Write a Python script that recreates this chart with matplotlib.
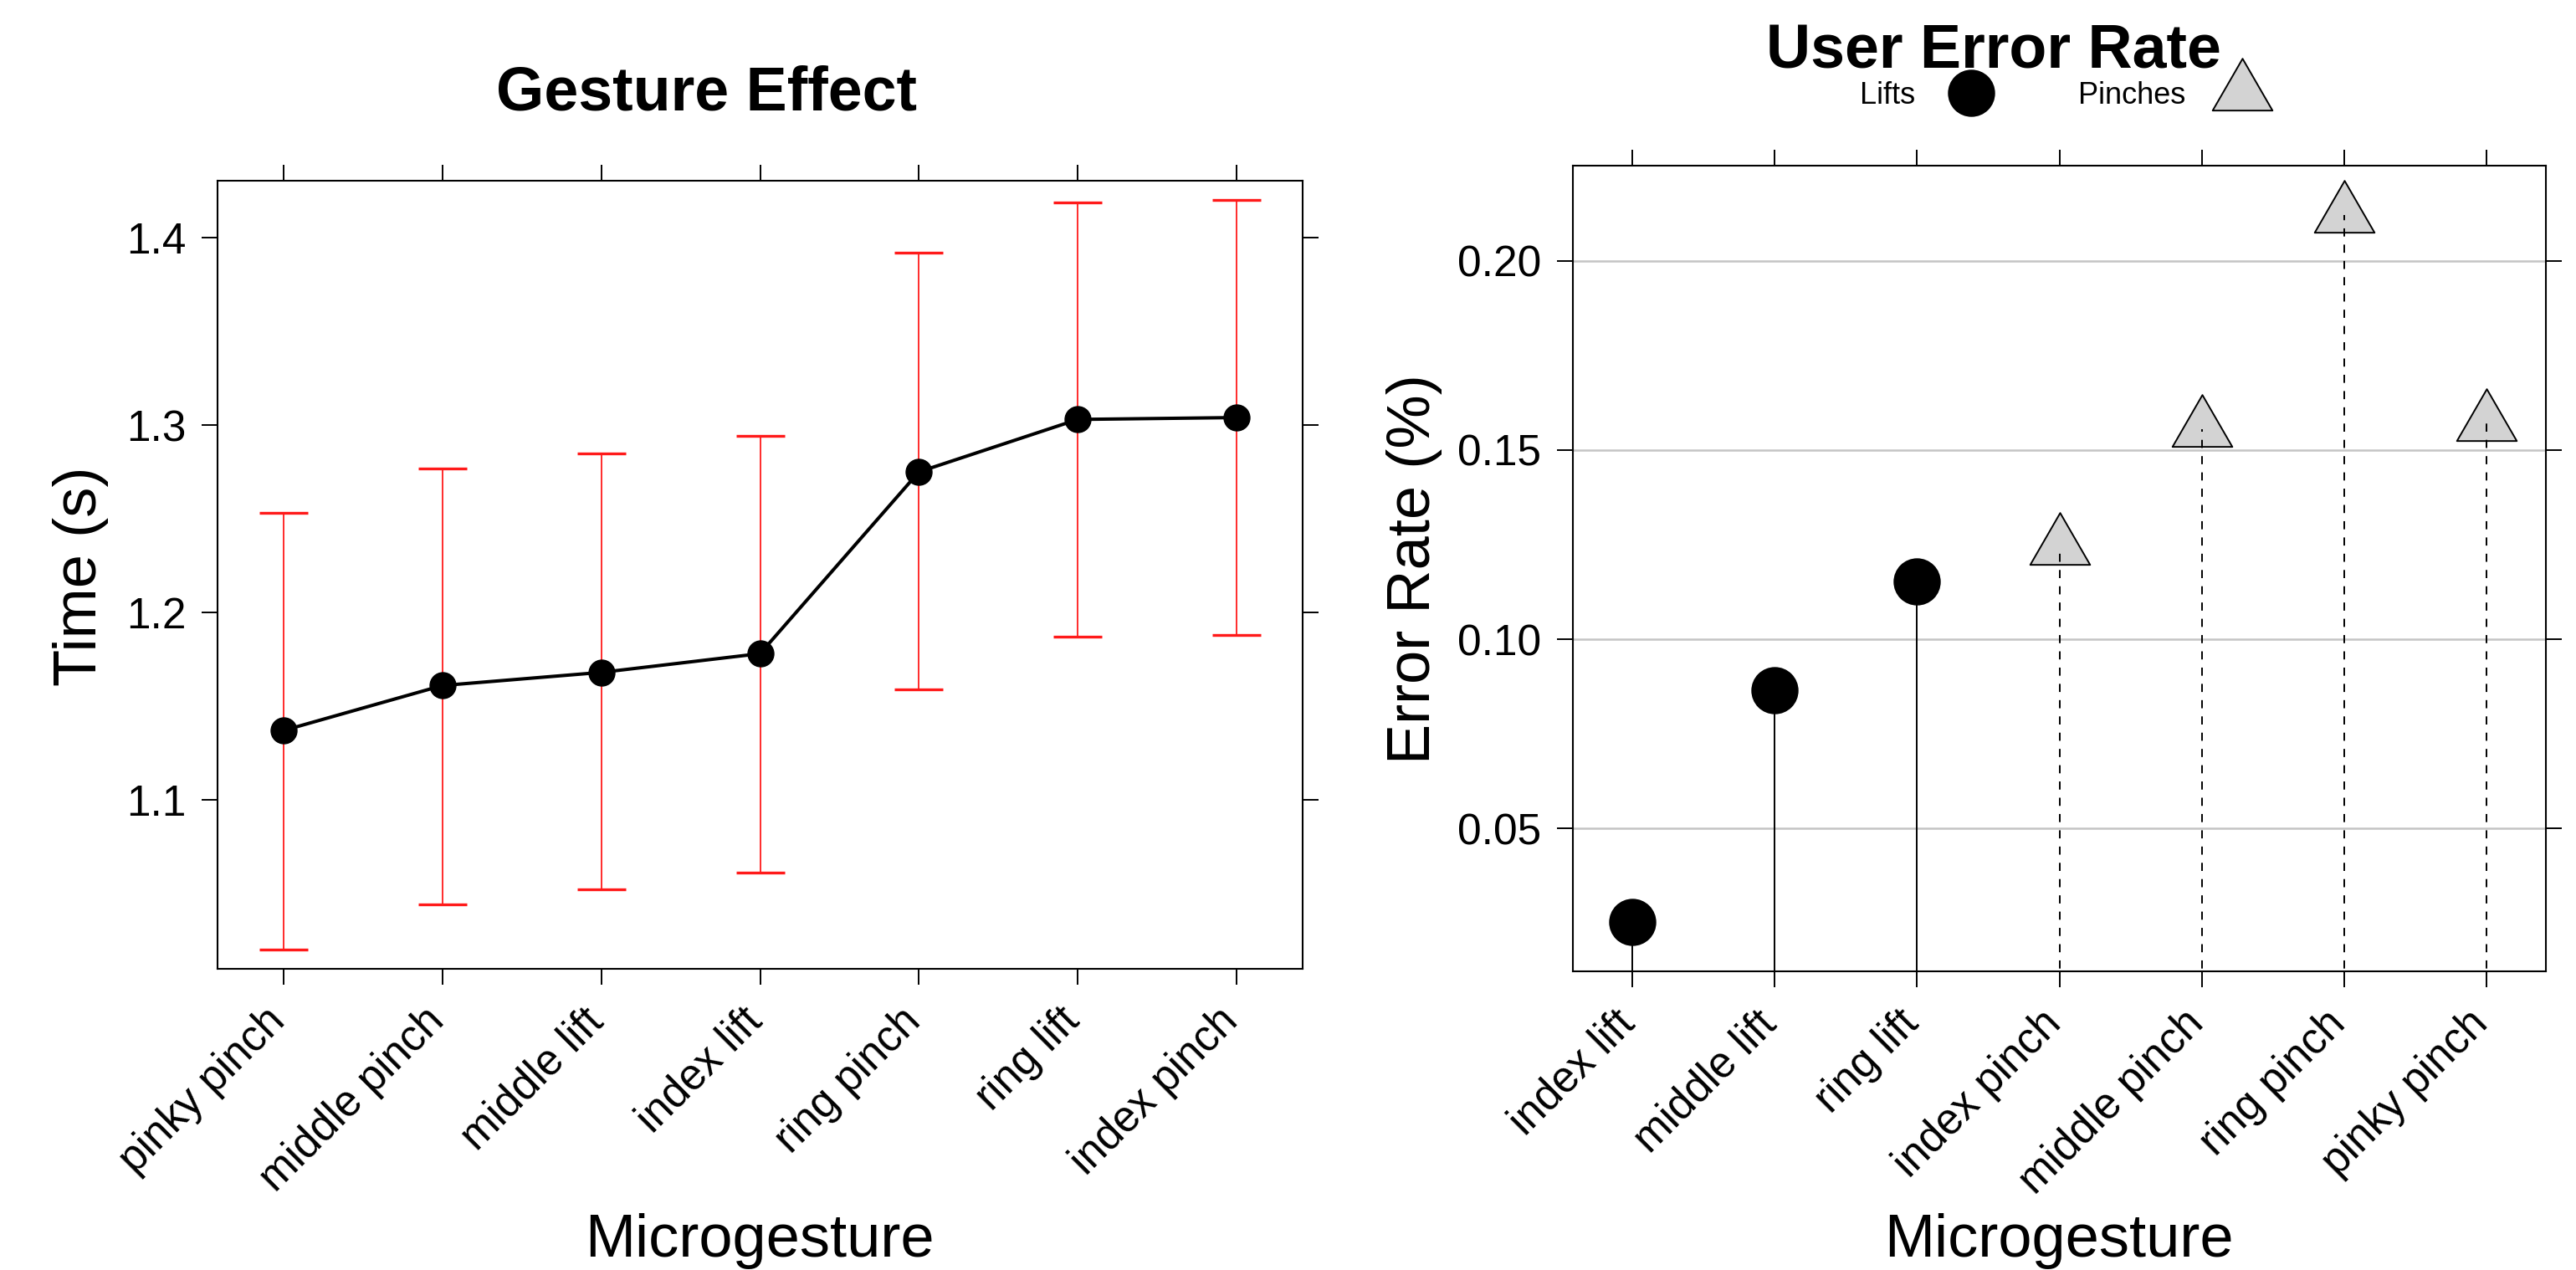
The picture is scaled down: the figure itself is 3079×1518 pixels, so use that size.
import matplotlib
matplotlib.use("Agg")
import matplotlib.pyplot as plt
import matplotlib as mpl
import matplotlib.transforms as mtrans
from matplotlib.path import Path
from matplotlib.lines import Line2D
from matplotlib.ticker import FormatStrFormatter

# gesture effect (mean time with confidence interval)
gestureLabels = ["pinky pinch", "middle pinch", "middle lift", "index lift",
                 "ring pinch", "ring lift", "index pinch"]
gestureTime = [1.137, 1.161, 1.168, 1.178, 1.275, 1.303, 1.304]
ciLow = [1.020, 1.044, 1.052, 1.061, 1.159, 1.187, 1.188]
ciHigh = [1.253, 1.277, 1.285, 1.294, 1.392, 1.419, 1.420]

# user error rate
errorLabels = ["index lift", "middle lift", "ring lift", "index pinch",
               "middle pinch", "ring pinch", "pinky pinch"]
errorRate = [0.0252, 0.0865, 0.1153, 0.1243, 0.1556, 0.2122, 0.1571]
errorGroup = ["Lifts", "Lifts", "Lifts", "Pinches", "Pinches", "Pinches", "Pinches"]

W, H, DPI = 3079, 1518, 100

# R style triangle (pch 24), centred on its centroid
triangle = Path([(0, 1), (-0.866, -0.5), (0.866, -0.5), (0, 1)],
                [Path.MOVETO, Path.LINETO, Path.LINETO, Path.CLOSEPOLY])


def px(x, y):
    return x / W, 1 - y / H


def StyleAxes(ax, fig):
    for s in ax.spines.values():
        s.set_linewidth(1.5)
    ax.tick_params(direction="out", length=13.7, width=1.4, top=True, right=True,
                   labeltop=False, labelright=False, labelsize=37, pad=13.5)
    offset = mtrans.ScaledTranslation(0.12, 0, fig.dpi_scale_trans)
    for lab in ax.get_xticklabels():
        lab.set_rotation(45)
        lab.set_ha("right")
        lab.set_va("top")
        lab.set_transform(lab.get_transform() + offset)


def PlotGestureEffect(fig):
    x0, y1 = px(260, 216)
    x1, y0 = px(1557, 1158)
    ax = fig.add_axes([x0, y0, x1 - x0, y1 - y0])
    pos = list(range(1, len(gestureLabels) + 1))
    yerr = [[t - l for t, l in zip(gestureTime, ciLow)],
            [h - t for t, h in zip(gestureTime, ciHigh)]]
    ax.errorbar(pos, gestureTime, yerr=yerr, fmt="none", ecolor="#ff1a1a",
                elinewidth=1.3, capsize=21, capthick=2.4, zorder=1.5)
    ax.plot(pos, gestureTime, color="black", lw=2.9, marker="o", ms=22.3, zorder=3)
    ax.set_xlim(0.584, 7.416)
    ax.set_ylim(1.0098, 1.4304)
    ax.set_xticks(pos)
    ax.set_xticklabels(gestureLabels)
    ax.set_yticks([1.1, 1.2, 1.3, 1.4])
    ax.yaxis.set_major_formatter(FormatStrFormatter("%.1f"))
    StyleAxes(ax, fig)

    fig.text(*px(845, 132), "Gesture Effect", ha="center", va="baseline",
             fontsize=53, fontweight="bold")
    fig.text(*px(97, 689), "Time (s)", ha="center", va="center", rotation=90, fontsize=52)
    fig.text(*px(908, 1502), "Microgesture", ha="center", va="baseline", fontsize=52)


def PlotErrorRate(fig):
    x0, y1 = px(1880, 198)
    x1, y0 = px(3043, 1161)
    ax = fig.add_axes([x0, y0, x1 - x0, y1 - y0])
    pos = list(range(1, len(errorLabels) + 1))
    lifts = [i for i, g in enumerate(errorGroup) if g == "Lifts"]
    pinches = [i for i, g in enumerate(errorGroup) if g == "Pinches"]

    ax.vlines([pos[i] for i in lifts], 0, [errorRate[i] for i in lifts],
              colors="black", lw=1.4, zorder=3)
    ax.vlines([pos[i] for i in pinches], 0, [errorRate[i] for i in pinches],
              colors="black", lw=1.4, linestyles=(0, (5, 5)), zorder=3)
    ax.plot([pos[i] for i in lifts], [errorRate[i] for i in lifts], linestyle="none",
            marker="o", ms=39.6, color="black", zorder=2.5)
    ax.plot([pos[i] for i in pinches], [errorRate[i] for i in pinches], linestyle="none",
            marker=triangle, ms=59.5, mfc="#d3d3d3", mec="black", mew=1.4, zorder=2.5)

    ax.set_xlim(0.58, 7.42)
    ax.set_ylim(0.0122, 0.2252)
    ax.set_xticks(pos)
    ax.set_xticklabels(errorLabels)
    ax.set_yticks([0.05, 0.10, 0.15, 0.20])
    ax.yaxis.set_major_formatter(FormatStrFormatter("%.2f"))
    ax.yaxis.grid(True, color="#c4c4c4", lw=1.8)
    ax.set_axisbelow(True)
    StyleAxes(ax, fig)

    handles = [Line2D([], [], linestyle="none", marker="o", ms=39.6, color="black"),
               Line2D([], [], linestyle="none", marker=triangle, ms=59.5,
                      mfc="#d3d3d3", mec="black", mew=1.4)]
    fig.legend(handles, ["Lifts", "Pinches"], loc="center", bbox_to_anchor=px(2465, 114),
               ncol=2, markerfirst=False, frameon=False, fontsize=26,
               handlelength=1.5, handletextpad=1.1, columnspacing=2.8,
               borderpad=0, borderaxespad=0)

    fig.text(*px(2383, 81), "User Error Rate", ha="center", va="baseline",
             fontsize=53, fontweight="bold")
    fig.text(*px(1691, 680), "Error Rate (%)", ha="center", va="center", rotation=90,
             fontsize=52)
    fig.text(*px(2461, 1502), "Microgesture", ha="center", va="baseline", fontsize=52)


def main():
    mpl.rc("font", family=["Liberation Sans", "DejaVu Sans"])
    fig = plt.figure(figsize=(W / DPI, H / DPI), dpi=DPI)
    PlotGestureEffect(fig)
    PlotErrorRate(fig)
    fig.savefig("out.png", dpi=DPI)


if __name__ == "__main__":
    main()
